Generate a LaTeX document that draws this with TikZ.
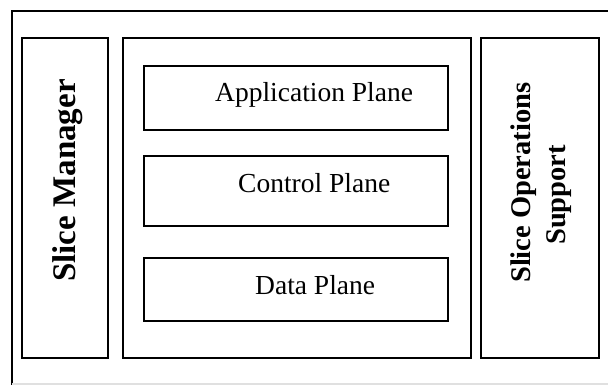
\documentclass[tikz,border=0pt]{standalone}
\usepackage{fontspec}
\setmainfont{Liberation Serif}
\begin{document}
\begin{tikzpicture}[x=1pt,y=-1pt,
  box/.style={draw=black,line width=1.5pt,inner sep=0pt,outer sep=0pt},
  ptext/.style={inner sep=0pt,anchor=base west,font=\fontsize{27.5}{33}\selectfont},
  vtext/.style={inner sep=0pt,anchor=base west,rotate=90,font=\bfseries\fontsize{28.5}{34}\selectfont}]
\useasboundingbox (0,0) rectangle (608,385);
% outer frame (clipped at right and bottom in the reference)
\draw[line width=1.5pt] (12,385) -- (12,11) -- (608,11);
\draw[line width=1.2pt,black!12] (12,384) -- (608,384);
% columns
\node[box,minimum width=86pt,minimum height=320pt] (mgr) at (65,198) {};
\node[box,minimum width=348pt,minimum height=320pt] (mid) at (297,198) {};
\node[box,minimum width=118pt,minimum height=320pt] (sos) at (540,198) {};
% planes
\node[box,minimum width=304pt,minimum height=64pt] (app) at (296,98) {};
\node[box,minimum width=304pt,minimum height=70pt] (ctl) at (296,191) {};
\node[box,minimum width=304pt,minimum height=63pt] (dat) at (296,289.5) {};
% texts
\node[ptext] (apptxt) at (215,102) {Application Plane};
\node[ptext] (ctltxt) at (238,193) {Control Plane};
\node[ptext] (dattxt) at (255,294) {Data Plane};
\node[vtext,font=\bfseries\fontsize{33}{40}\selectfont] (mgrtxt) at (75,282) {Slice Manager};
\node[vtext] (sostxt1) at (530,283) {Slice Operations};
\node[vtext] (sostxt2) at (565,245) {Support};
\end{tikzpicture}
\end{document}
